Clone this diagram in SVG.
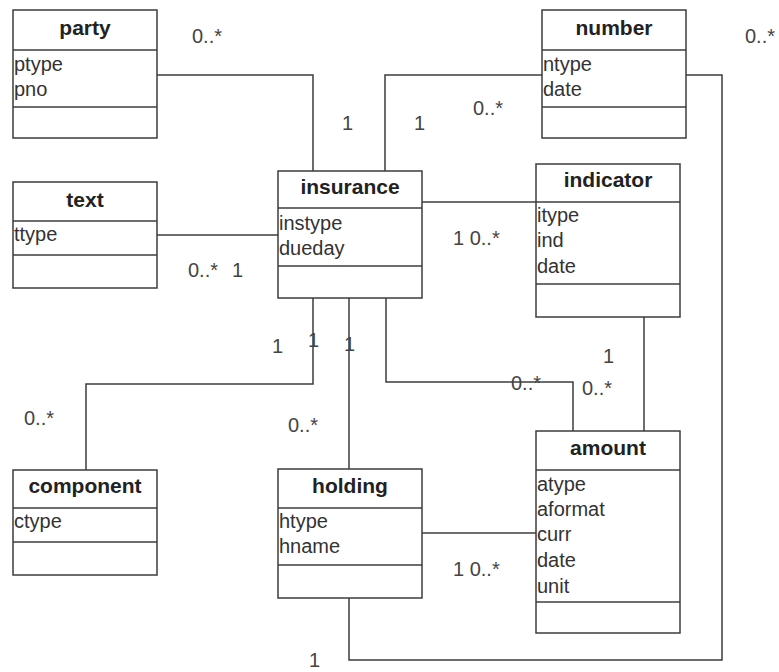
<svg xmlns="http://www.w3.org/2000/svg" width="779" height="672" viewBox="0 0 779 672">
<style>
.box{fill:#fff;stroke:#3c3c3c;stroke-width:1.5}
.sep{stroke:#3c3c3c;stroke-width:1.5}
.hd{font-family:"Liberation Sans",Arial,sans-serif;font-size:21px;font-weight:bold;fill:#222;text-anchor:middle}
.at{font-family:"Liberation Sans",Arial,sans-serif;font-size:20px;fill:#333}
.m{font-family:"Liberation Sans",Arial,sans-serif;font-size:20px;fill:#444}
.c{fill:none;stroke:#3c3c3c;stroke-width:1.5}
</style>
<rect width="779" height="672" fill="#fff"/>
<g id="connectors">
<path class="c" d="M157,75 H313 V171"/>
<path class="c" d="M542,75 H385 V171"/>
<path class="c" d="M686,75 H722 V660 H349 V598"/>
<path class="c" d="M157,235 H278"/>
<path class="c" d="M422,202 H536"/>
<path class="c" d="M644,317 V431"/>
<path class="c" d="M86,470 V384 H313 V298"/>
<path class="c" d="M349,298 V469"/>
<path class="c" d="M386,298 V382 H573 V431"/>
<path class="c" d="M422,533 H536"/>
</g>
<g id="labels">
<text class="m" x="192" y="43">0..*</text>
<text class="m" x="342" y="130">1</text>
<text class="m" x="414" y="130">1</text>
<text class="m" x="473" y="115">0..*</text>
<text class="m" x="745" y="43">0..*</text>
<text class="m" x="188" y="277">0..*</text>
<text class="m" x="232" y="277">1</text>
<text class="m" x="453" y="245">1 0..*</text>
<text class="m" x="272" y="353">1</text>
<text class="m" x="308" y="347">1</text>
<text class="m" x="344" y="351">1</text>
<text class="m" x="24" y="425">0..*</text>
<text class="m" x="288" y="432">0..*</text>
<text class="m" x="603" y="363">1</text>
<text class="m" x="511" y="390">0..*</text>
<text class="m" x="582" y="395">0..*</text>
<text class="m" x="453" y="576">1 0..*</text>
<text class="m" x="309" y="667">1</text>
</g>
<g id="party">
<rect class="box" x="13" y="10" width="144" height="128"/>
<line class="sep" x1="13" y1="50" x2="157" y2="50"/>
<line class="sep" x1="13" y1="107" x2="157" y2="107"/>
<text class="hd" x="85" y="35">party</text>
<text class="at" x="14" y="71">ptype</text>
<text class="at" x="14" y="96">pno</text>
</g>
<g id="number">
<rect class="box" x="542" y="10" width="144" height="128"/>
<line class="sep" x1="542" y1="50" x2="686" y2="50"/>
<line class="sep" x1="542" y1="107" x2="686" y2="107"/>
<text class="hd" x="614" y="35">number</text>
<text class="at" x="543" y="71">ntype</text>
<text class="at" x="543" y="96">date</text>
</g>
<g id="text">
<rect class="box" x="13" y="182" width="144" height="106"/>
<line class="sep" x1="13" y1="221" x2="157" y2="221"/>
<line class="sep" x1="13" y1="255" x2="157" y2="255"/>
<text class="hd" x="85" y="207">text</text>
<text class="at" x="14" y="241">ttype</text>
</g>
<g id="insurance">
<rect class="box" x="278" y="171" width="144" height="127"/>
<line class="sep" x1="278" y1="208" x2="422" y2="208"/>
<line class="sep" x1="278" y1="266" x2="422" y2="266"/>
<text class="hd" x="350" y="194">insurance</text>
<text class="at" x="279" y="230">instype</text>
<text class="at" x="279" y="255">dueday</text>
</g>
<g id="indicator">
<rect class="box" x="536" y="164" width="144" height="153"/>
<line class="sep" x1="536" y1="202" x2="680" y2="202"/>
<line class="sep" x1="536" y1="284" x2="680" y2="284"/>
<text class="hd" x="608" y="187">indicator</text>
<text class="at" x="537" y="222">itype</text>
<text class="at" x="537" y="247">ind</text>
<text class="at" x="537" y="273">date</text>
</g>
<g id="component">
<rect class="box" x="13" y="470" width="144" height="105"/>
<line class="sep" x1="13" y1="508" x2="157" y2="508"/>
<line class="sep" x1="13" y1="542" x2="157" y2="542"/>
<text class="hd" x="85" y="493">component</text>
<text class="at" x="14" y="528">ctype</text>
</g>
<g id="holding">
<rect class="box" x="278" y="469" width="144" height="129"/>
<line class="sep" x1="278" y1="508" x2="422" y2="508"/>
<line class="sep" x1="278" y1="565" x2="422" y2="565"/>
<text class="hd" x="350" y="493">holding</text>
<text class="at" x="279" y="528">htype</text>
<text class="at" x="279" y="553">hname</text>
</g>
<g id="amount">
<rect class="box" x="536" y="431" width="144" height="202"/>
<line class="sep" x1="536" y1="470" x2="680" y2="470"/>
<line class="sep" x1="536" y1="602" x2="680" y2="602"/>
<text class="hd" x="608" y="455">amount</text>
<text class="at" x="537" y="491">atype</text>
<text class="at" x="537" y="516">aformat</text>
<text class="at" x="537" y="541">curr</text>
<text class="at" x="537" y="567">date</text>
<text class="at" x="537" y="593">unit</text>
</g>
</svg>
